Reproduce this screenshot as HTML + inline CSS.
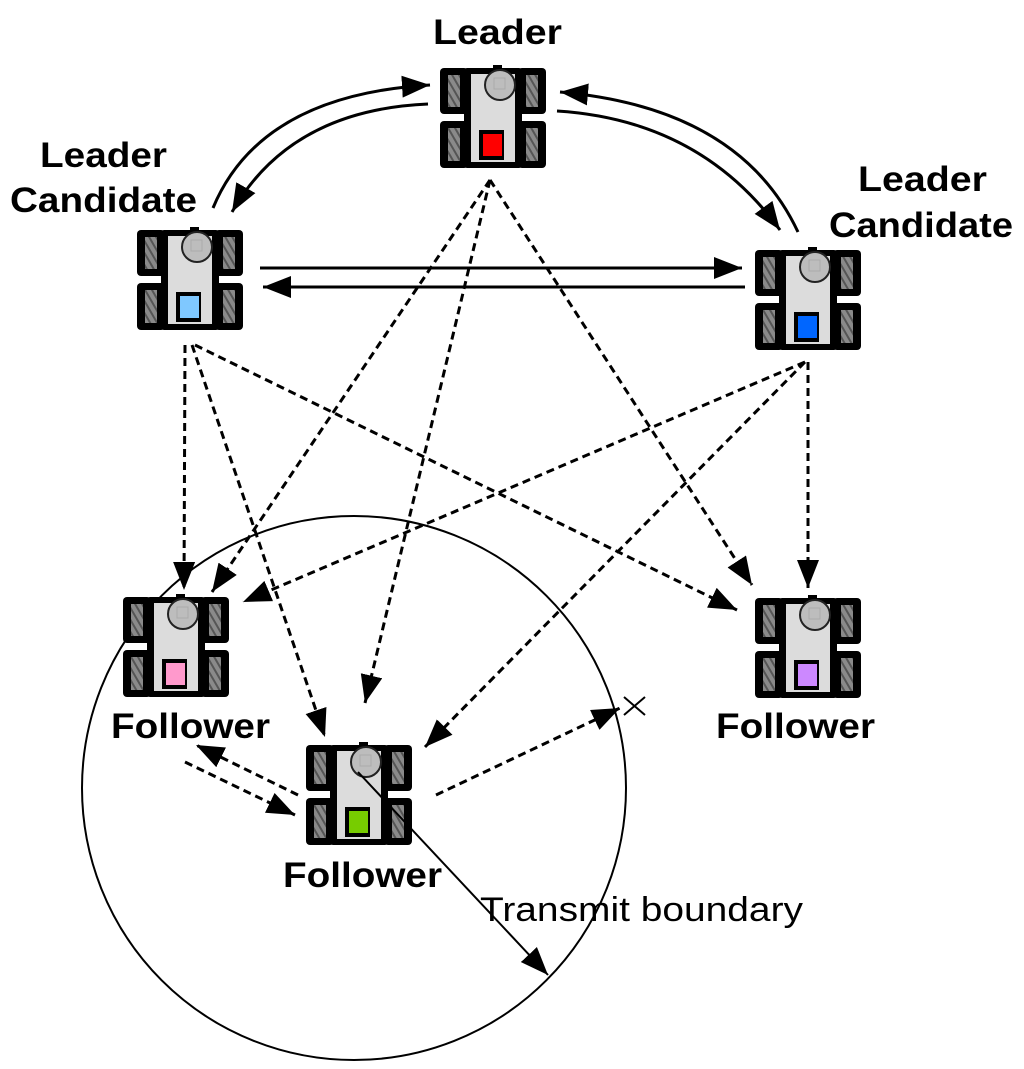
<!DOCTYPE html>
<html><head><meta charset="utf-8"><style>
html,body{margin:0;padding:0;background:#fff;}
svg{display:block;}
text{font-family:"Liberation Sans",Arial,sans-serif;}
.b{font-weight:bold;font-size:35px;}
</style></head><body>
<svg width="1024" height="1069" viewBox="0 0 1024 1069" xmlns="http://www.w3.org/2000/svg">
<defs>
<pattern id="h" width="6" height="6" patternUnits="userSpaceOnUse" patternTransform="rotate(-30)">
<rect width="6" height="6" fill="#8a8a8a"/><rect width="2" height="6" fill="#555"/>
</pattern>
<marker id="A" viewBox="0 0 10 10" refX="10" refY="5" markerWidth="28" markerHeight="22" markerUnits="userSpaceOnUse" orient="auto" preserveAspectRatio="none">
<path d="M0,0 L10,5 L0,10 z" fill="#000"/>
</marker>
<g id="r">
<rect x="0" y="0" width="28" height="46" rx="4" fill="#000"/>
<rect x="8" y="7" width="12" height="32" fill="url(#h)"/>
<rect x="0" y="53" width="28" height="47" rx="4" fill="#000"/>
<rect x="8" y="60" width="12" height="33" fill="url(#h)"/>
<rect x="78" y="0" width="28" height="46" rx="4" fill="#000"/>
<rect x="86" y="7" width="12" height="32" fill="url(#h)"/>
<rect x="78" y="53" width="28" height="47" rx="4" fill="#000"/>
<rect x="86" y="60" width="12" height="33" fill="url(#h)"/>
<rect x="24" y="0" width="58" height="100" rx="3" fill="#000"/>
<rect x="31" y="6" width="44" height="88" fill="#dcdcdc"/>
<rect x="53" y="-3" width="9" height="6" fill="#000"/>
<circle cx="60" cy="17" r="15" fill="#bdbdbd" stroke="#222" stroke-width="2"/>
<rect x="54" y="10" width="11" height="11" fill="none" stroke="#aaa" stroke-width="1"/>
<rect x="39" y="62" width="25" height="30" fill="#000"/>
</g>
</defs>

<circle cx="354" cy="788" r="272" fill="none" stroke="#000" stroke-width="2"/>

<use href="#r" x="440" y="68"/><rect x="483" y="134" width="19" height="22" fill="#ff0000"/>
<use href="#r" x="137" y="230"/><rect x="180" y="296" width="19" height="22" fill="#7fc8ff"/>
<use href="#r" x="755" y="250"/><rect x="798" y="316" width="19" height="22" fill="#0066ff"/>
<use href="#r" x="123" y="597"/><rect x="166" y="663" width="19" height="22" fill="#ff99cc"/>
<use href="#r" x="755" y="598"/><rect x="798" y="664" width="19" height="22" fill="#cc88ff"/>
<use href="#r" x="306" y="745"/><rect x="349" y="811" width="19" height="22" fill="#77cc00"/>

<g fill="none" stroke="#000" stroke-width="3">
<path d="M213,208 Q260,95 430,85" marker-end="url(#A)"/>
<path d="M428,104 Q290,110 232,212" marker-end="url(#A)"/>
<path d="M798,232 Q740,108 560,92" marker-end="url(#A)"/>
<path d="M557,111 Q700,120 780,230" marker-end="url(#A)"/>
<path d="M260,268 L742,268" marker-end="url(#A)"/>
<path d="M745,287 L263,287" marker-end="url(#A)"/>
</g>
<g fill="none" stroke="#000" stroke-width="3" stroke-dasharray="8,5">
<path d="M490,180 L212,592" marker-end="url(#A)"/>
<path d="M490,180 L365,703" marker-end="url(#A)"/>
<path d="M490,180 L752,585" marker-end="url(#A)"/>
<path d="M185,345 L184,590" marker-end="url(#A)"/>
<path d="M192,345 L325,737" marker-end="url(#A)"/>
<path d="M195,345 L737,610" marker-end="url(#A)"/>
<path d="M805,362 L243,602" marker-end="url(#A)"/>
<path d="M805,362 L425,747" marker-end="url(#A)"/>
<path d="M808,362 L808,588" marker-end="url(#A)"/>
<path d="M185,762 L295,815" marker-end="url(#A)"/>
<path d="M298,795 L196,745" marker-end="url(#A)"/>
<path d="M436,795 L620,708" marker-end="url(#A)"/>
</g>
<path d="M358,772 L548,975" fill="none" stroke="#000" stroke-width="2" marker-end="url(#A)"/>
<path d="M624,697 L645,715 M645,697 L624,715" stroke="#000" stroke-width="2"/>

<text class="b" x="433" y="44" textLength="129" lengthAdjust="spacingAndGlyphs">Leader</text>
<text class="b" x="40" y="167" textLength="127" lengthAdjust="spacingAndGlyphs">Leader</text>
<text class="b" x="10" y="212" textLength="187" lengthAdjust="spacingAndGlyphs">Candidate</text>
<text class="b" x="858" y="191" textLength="129" lengthAdjust="spacingAndGlyphs">Leader</text>
<text class="b" x="829" y="237" textLength="184" lengthAdjust="spacingAndGlyphs">Candidate</text>
<text class="b" x="111" y="738" textLength="159" lengthAdjust="spacingAndGlyphs">Follower</text>
<text class="b" x="283" y="887" textLength="159" lengthAdjust="spacingAndGlyphs">Follower</text>
<text class="b" x="716" y="738" textLength="159" lengthAdjust="spacingAndGlyphs">Follower</text>
<text x="480" y="921" font-size="34" textLength="323" lengthAdjust="spacingAndGlyphs">Transmit boundary</text>
</svg>
</body></html>
